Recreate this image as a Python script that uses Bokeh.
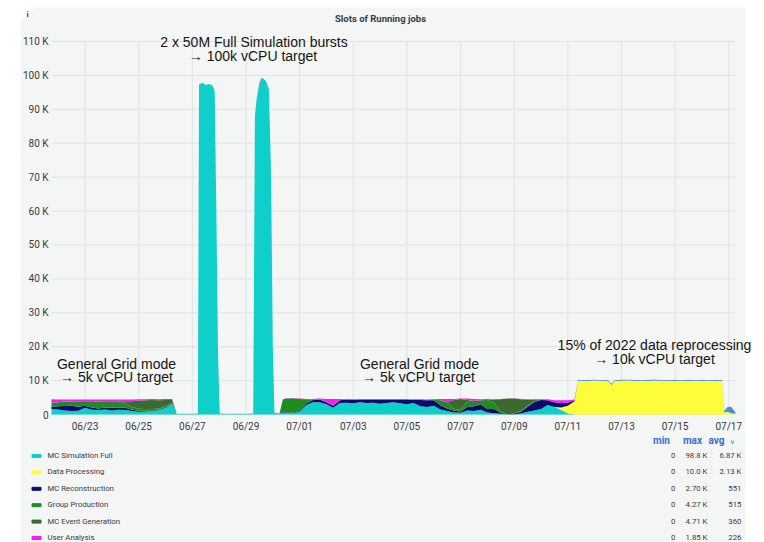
import pandas as pd
from bokeh.plotting import figure
from bokeh.models import ColumnDataSource, Range1d
from bokeh.core.properties import value
from bokeh.embed import file_html
from bokeh.resources import INLINE

# ---------------------------------------------------------------- data
# sample times, hours after 2023-06-21 18:00
START = pd.Timestamp("2023-06-21 18:00")
hours = [
    0, 6, 12, 18, 24, 30, 36, 42, 48, 54, 60, 66, 72, 78, 84, 90, 96, 102, 108,
    112, 120, 126, 131, 132, 135, 138, 141, 144, 146, 147.5, 149, 150.5, 158, 170,
    180.5, 182, 183.5, 186, 188, 190, 192, 194.5, 196.5, 198, 199.5, 204,
    207, 210, 216, 222, 228, 234, 240, 246, 252, 258, 264, 270, 276, 282, 288,
    294, 300, 306, 312, 318, 324, 330, 336, 342, 348, 354, 360, 366, 372, 378,
    384, 390, 396, 402, 408, 414, 420, 426, 432, 438, 444, 450, 456, 462, 468,
    471, 474, 480, 486, 492, 498, 501, 504, 510, 516, 522, 528, 534, 540, 546,
    552, 558, 564, 570, 576, 582, 588, 594, 600, 602, 605, 608, 612,
]
SPAN_HOURS = 612

# running slots per activity, in thousands
mc_simulation_full = [
    1.6, 1.5, 1.2, 1.0, 1.1, 2.0, 1.4, 1.3, 1.5, 1.2, 1.4, 1.3, 1.0, 0.8, 0.9, 1.0, 1.3, 2.0, 3.0,
    0.2, 0.2, 0.2, 0.3, 97.3, 97.8, 97.2, 97.5, 97.0, 95.5, 60.0, 18.0, 0.3, 0.2, 0.2,
    0.3, 88.0, 93.0, 97.5, 98.8, 98.5, 98.0, 96.0, 70.0, 20.0, 0.5, 0.3,
    0.6, 0.5, 0.4, 0.8, 2.8, 3.6, 3.6, 3.0, 2.0, 3.4, 3.5, 3.3, 3.6, 3.4, 3.5,
    3.2, 3.4, 3.6, 3.3, 3.0, 3.4, 2.4, 2.2, 2.6, 1.5, 1.0, 0.6, 0.5, 1.2, 1.0,
    1.4, 0.6, 0.4, 0.2, 0.0, 0.1, 0.3, 0.8, 1.2, 1.6, 2.8, 2.2, 1.3, 0.4, 0.0,
    0, 0, 0, 0, 0, 0, 0, 0, 0, 0, 0, 0, 0, 0, 0,
    0, 0, 0, 0, 0, 0, 0, 0, 0, 0, 0, 0, 0,
]
data_processing = [
    0, 0, 0, 0, 0, 0, 0, 0, 0, 0, 0, 0, 0, 0, 0, 0, 0, 0, 0,
    0, 0, 0, 0, 0, 0, 0, 0, 0, 0, 0, 0, 0, 0, 0,
    0, 0, 0, 0, 0, 0, 0, 0, 0, 0, 0, 0,
    0, 0, 0, 0, 0, 0, 0, 0, 0, 0, 0, 0, 0, 0, 0,
    0, 0, 0, 0, 0, 0, 0, 0, 0, 0, 0, 0, 0, 0, 0,
    0, 0, 0, 0, 0, 0, 0, 0, 0, 0, 0, 0, 0.8, 2.2, 3.9,
    9.9, 9.95, 9.9, 10.0, 9.9, 9.8, 8.7, 9.9, 9.95, 10.0, 9.9, 9.95, 9.9, 10.0, 9.9,
    9.95, 9.9, 9.95, 9.9, 9.95, 9.9, 9.95, 9.9, 9.9, 0.6, 0.8, 0.4, 0.2,
]
mc_reconstruction = [
    0.7, 0.9, 1.3, 1.6, 1.2, 0.6, 0.7, 0.5, 0.6, 0.8, 0.6, 0.7, 0.4, 0.3, 0.2, 0.2, 0.2, 0.2, 0.1,
    0, 0, 0, 0, 0, 0, 0, 0, 0, 0, 0, 0, 0, 0, 0,
    0, 0, 0, 0, 0, 0, 0, 0, 0, 0, 0, 0,
    0.2, 0.2, 0.1, 0.2, 0.5, 0.7, 0.8, 0.6, 0.6, 0.8, 0.9, 1.0, 0.8, 1.0, 0.9,
    1.2, 1.0, 0.8, 1.1, 1.4, 0.9, 1.9, 2.0, 1.6, 1.2, 0.8, 0.5, 0.4, 1.0, 1.4,
    1.6, 1.0, 1.2, 0.3, 0.0, 0.2, 0.5, 1.5, 2.5, 2.70, 1.4, 1.4, 1.3, 0.9, 0.3,
    0, 0, 0, 0, 0, 0, 0, 0, 0, 0, 0, 0, 0, 0, 0,
    0, 0, 0, 0, 0, 0, 0, 0, 0, 0, 0, 0, 0,
]
group_production = [
    1.2, 1.2, 1.3, 1.2, 1.6, 1.3, 1.8, 2.0, 1.8, 1.9, 1.9, 1.4, 0.8, 0.6, 0.5, 0.4, 0.3, 0.3, 0.3,
    0, 0, 0, 0, 0, 0, 0, 0, 0, 0, 0, 0, 0, 0, 0,
    0, 0, 0, 0, 0, 0, 0, 0, 0, 0, 0, 0,
    3.6, 4.0, 4.27, 3.6, 1.2, 0.2, 0.1, 0.1, 0.1, 0.1, 0.0, 0.0, 0.0, 0.0, 0.0,
    0.0, 0.0, 0.0, 0.0, 0.0, 0.0, 0.0, 0.0, 0.2, 1.5, 1.8, 0.6, 0.4, 1.8, 1.6,
    1.2, 2.7, 1.8, 0.4, 0.0, 0.1, 0.2, 0.3, 0.2, 0.0, 0.0, 0.0, 0.0, 0.0, 0.0,
    0, 0, 0, 0, 0, 0, 0, 0, 0, 0, 0, 0, 0, 0, 0,
    0, 0, 0, 0, 0, 0, 0, 0, 0, 0, 0, 0, 0,
]
mc_event_generation = [
    0, 0, 0, 0, 0, 0, 0, 0, 0, 0, 0, 0.5, 1.7, 2.4, 2.6, 2.7, 2.4, 1.8, 0.9,
    0, 0, 0, 0, 0, 0, 0, 0, 0, 0, 0, 0, 0, 0, 0,
    0, 0, 0, 0, 0, 0, 0, 0, 0, 0, 0, 0,
    0, 0, 0, 0, 0, 0, 0, 0, 0, 0, 0, 0, 0, 0, 0,
    0, 0, 0, 0, 0, 0, 0, 0, 0, 0, 0, 2.6, 3.3, 0.3, 0.0,
    0.0, 0.0, 1.0, 3.6, 4.71, 4.3, 3.5, 1.8, 0.4, 0.0, 0.0, 0.0, 0.0, 0.0, 0.0,
    0, 0, 0, 0, 0, 0, 0, 0, 0, 0, 0, 0, 0, 0, 0,
    0, 0, 0, 0, 0, 0, 0, 0, 0, 0, 0, 0, 0,
]
user_analysis = [
    1.0, 0.8, 0.6, 0.6, 0.5, 0.5, 0.5, 0.6, 0.5, 0.5, 0.5, 0.5, 0.5, 0.4, 0.3, 0.3, 0.3, 0.3, 0.3,
    0, 0, 0, 0, 0, 0, 0, 0, 0, 0, 0, 0, 0, 0, 0,
    0, 0, 0, 0, 0, 0, 0, 0, 0, 0, 0, 0,
    0.1, 0.1, 0.1, 0.1, 0.1, 0.1, 0.2, 0.9, 1.85, 0.3, 0.2, 0.2, 0.2, 0.1, 0.2,
    0.1, 0.2, 0.1, 0.2, 0.1, 0.2, 0.2, 0.2, 0.2, 0.4, 1.0, 0.3, 0.1, 0.4, 0.6,
    0.3, 0.3, 0.1, 0.1, 0.0, 0.1, 0.1, 0.1, 0.2, 0.2, 0.3, 0.6, 0.8, 0.7, 0.2,
    0, 0, 0, 0, 0, 0, 0, 0, 0, 0, 0, 0, 0, 0, 0,
    0, 0, 0, 0, 0, 0, 0, 0, 0, 0, 0, 0, 0,
]
other_activity = [
    0, 0, 0, 0, 0, 0, 0, 0, 0, 0, 0, 0, 0, 0, 0, 0, 0, 0, 0,
    0, 0, 0, 0, 0, 0, 0, 0, 0, 0, 0, 0, 0, 0, 0,
    0, 0, 0, 0.3, 0.5, 0.4, 0.3, 0, 0, 0, 0, 0,
    0, 0, 0, 0, 0, 0, 0, 0, 0, 0, 0, 0, 0, 0, 0,
    0, 0, 0, 0, 0, 0, 0, 0, 0, 0, 0, 0, 0, 0, 0,
    0, 0, 0, 0, 0, 0, 0, 0, 0, 0, 0, 0, 0, 0, 0,
    0.3, 0.2, 0.3, 0.25, 0.2, 0.3, 0.35, 0.2, 0.3, 0.25, 0.3, 0.2, 0.3, 0.3, 0.2,
    0.25, 0.3, 0.2, 0.3, 0.25, 0.3, 0.2, 0.3, 0.3, 0.5, 1.4, 1.9, 0.5,
]

series_names = ["MC Simulation Full", "Data Processing", "MC Reconstruction",
                "Group Production", "MC Event Generation", "User Analysis"]
series_values = [mc_simulation_full, data_processing, mc_reconstruction,
                 group_production, mc_event_generation, user_analysis]
series_colors = ["#0fcfca", "#fdfd3b", "#0b0b6e", "#1f8c1f", "#386b2d", "#f81cf8"]
other_color = "#4a8fd4"
avg_labels = ["6.87 K", "2.13 K", "551", "515", "360", "226"]

tick_dates = ["2023-06-23", "2023-06-25", "2023-06-27", "2023-06-29", "2023-07-01",
              "2023-07-03", "2023-07-05", "2023-07-07", "2023-07-09", "2023-07-11",
              "2023-07-13", "2023-07-15", "2023-07-17"]
y_ticks = [0, 10, 20, 30, 40, 50, 60, 70, 80, 90, 100, 110]
Y_MAX = 110

notes = [
    ("2 x 50M Full Simulation bursts", 253.5, 41.7),
    ("\u2192 100k vCPU target", 252.5, 55.0),
    ("General Grid mode", 116, 363.3),
    ("\u2192 5k vCPU target", 116, 376.7),
    ("General Grid mode", 419, 363.3),
    ("\u2192 5k vCPU target", 418, 376.7),
    ("15% of 2022 data reprocessing", 654, 344.0),
    ("\u2192 10k vCPU target", 654, 358.3),
]

# ---------------------------------------------------------------- layout / style
W, H = 764, 542
PLOT_L, PLOT_R, PLOT_T, PLOT_B = 51, 735, 41, 414
PANEL = "#f4f5f5"
GRID = "#e2e3e4"
TEXT = "#3a3c40"
NOTE = "#151515"
BLUE = "#3470d8"


def ms(ts):
    return pd.Timestamp(ts).value / 1e6


# data ranges chosen so that the data window lands on the plotting rectangle
h_per_px = SPAN_HOURS / (PLOT_R - PLOT_L)
x_end = START + pd.Timedelta(hours=SPAN_HOURS)
x_lo = START - pd.Timedelta(hours=PLOT_L * h_per_px)
x_hi = x_end + pd.Timedelta(hours=(W - PLOT_R) * h_per_px)
k_per_px = Y_MAX / (PLOT_B - PLOT_T)
y_lo = -(H - PLOT_B) * k_per_px
y_hi = Y_MAX + PLOT_T * k_per_px

p = figure(width=W, height=H, x_range=Range1d(ms(x_lo), ms(x_hi)), y_range=Range1d(y_lo, y_hi),
           output_backend="svg", toolbar_location=None, min_border=0,
           x_axis_location=None, y_axis_location=None,
           background_fill_color="white", border_fill_color="white", outline_line_color=None)
p.grid.visible = False
p.extra_x_ranges = {"px": Range1d(0, W)}
p.extra_y_ranges = {"px": Range1d(H, 0)}
PX = dict(x_range_name="px", y_range_name="px")

# dashboard panel
p.quad(left=20, right=745, top=7, bottom=H, color=PANEL, line_color=None, level="image", **PX)
p.patch(x=[20, 35, 20], y=[7, 7, 21], color="white", line_color=None, level="image", **PX)
p.text(x=[27], y=[14], text=["i"], text_font=value("Roboto"), text_font_size="8px",
       text_font_style="bold", text_color=TEXT, text_align="center", text_baseline="middle", **PX)
p.text(x=[380], y=[18], text=["Slots of Running jobs"], text_font=value("Roboto"),
       text_font_size="9.5px", text_font_style="bold", text_color=TEXT,
       text_align="center", text_baseline="middle", **PX)

# grid
tick_ms = [ms(d) for d in tick_dates]
p.segment(x0=tick_ms, y0=0, x1=tick_ms, y1=Y_MAX, line_color=GRID, line_width=1, level="underlay")
p.segment(x0=ms(START), y0=y_ticks, x1=ms(x_end), y1=y_ticks, line_color=GRID, line_width=1,
          level="underlay")

# stacked areas
times = (START + pd.to_timedelta(hours, unit="h")).values
keys = ["s%d" % i for i in range(len(series_values))] + ["other"]
data = {"t": times}
for k, vals in zip(keys, series_values + [other_activity]):
    data[k] = vals
source = ColumnDataSource(data)
p.varea_stack(stackers=keys, x="t", color=series_colors + [other_color], fill_alpha=1, source=source)

# tick labels
x_labels = [pd.Timestamp(d).strftime("%m/%d") for d in tick_dates]
y_labels = ["0" if t == 0 else "%d K" % t for t in y_ticks]
p.text(x=tick_ms, y=426, text=x_labels, y_range_name="px", text_font=value("Roboto"),
       text_font_size="10px", text_color=TEXT, text_align="center", text_baseline="middle")
p.text(x=48, y=y_ticks, text=y_labels, x_range_name="px", text_font=value("Roboto"),
       text_font_size="10px", text_color=TEXT, text_align="right", text_baseline="middle")

# annotations
p.text(x=[n[1] for n in notes], y=[n[2] for n in notes], text=[n[0] for n in notes],
       text_font=value("Liberation Sans"), text_font_size="14px", text_color=NOTE,
       text_align="center", text_baseline="middle", **PX)

# legend table with min / max / avg
ROW0, ROW_H = 455, 16.4
rows = [ROW0 + i * ROW_H for i in range(len(series_names))]


def fmt_k(v):
    if v == 0:
        return "0"
    return ("%.1f K" % v) if v >= 10 else ("%.2f K" % v)


min_labels = [fmt_k(min(vals)) for vals in series_values]
max_labels = [fmt_k(max(vals)) for vals in series_values]

p.rect(x=36, y=[r + 0.5 for r in rows], width=9, height=3, color=series_colors, **PX)
legend_text = dict(text_font=value("Roboto"), text_font_size="7.8px", text_color=TEXT,
                   text_baseline="middle", **PX)
p.text(x=47, y=rows, text=series_names, **legend_text)
p.text(x=675, y=rows, text=min_labels, text_align="right", **legend_text)
p.text(x=707, y=rows, text=max_labels, text_align="right", **legend_text)
p.text(x=741, y=rows, text=avg_labels, text_align="right", **legend_text)
p.text(x=[661, 692, 716], y=440, text=["min", "max", "avg"], text_font=value("Roboto"),
       text_font_size="10px", text_font_style="bold", text_color=BLUE,
       text_baseline="middle", text_align="center", **PX)
p.text(x=[732], y=441, text=["\u2228"], text_font=value("DejaVu Sans"), text_font_size="6.5px",
       text_color=BLUE, text_baseline="middle", text_align="center", **PX)

open("out.html", "w").write(file_html(p, INLINE))
